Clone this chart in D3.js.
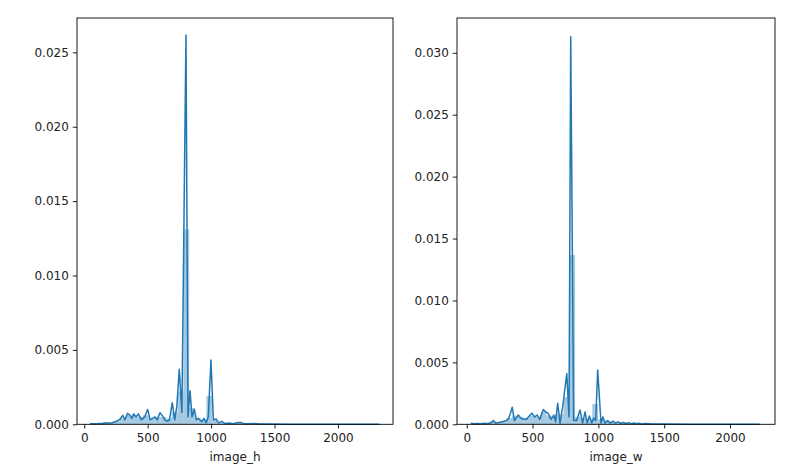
<!DOCTYPE html>
<html>
<head>
<meta charset="utf-8">
<script src="https://cdn.jsdelivr.net/npm/d3@7"></script>
<style>
  body { margin: 0; background: #fff; }
  svg text { font-family: "DejaVu Sans", sans-serif; font-size: 12px; fill: #222; }
</style>
</head>
<body>
<svg id="chart" width="795" height="474"></svg>
<script>
// image_h : kde curve (value, density)
var kdeH = [
  [45,0.00003],[70,0.00004],[95,0.00003],[120,0.00006],[145,0.00005],[170,0.0001],
  [195,0.00007],[220,0.0001],[255,0.0002],[282,0.00034],[303,0.0006],[321,0.0003],
  [342,0.00074],[361,0.0006],[375,0.0004],[390,0.0007],[408,0.0005],[427,0.0007],
  [451,0.0003],[477,0.0005],[500,0.001],[520,0.0003],[540,0.0004],[558,0.0005],
  [575,0.0003],[597,0.00078],[615,0.0006],[635,0.0003],[654,0.0002],[672,0.0003],
  [694,0.00145],[713,0.0003],[730,0.0012],[749,0.0037],[770,0.0008],[802,0.02616],
  [818,0.0005],[834,0.00226],[850,0.0005],[868,0.001],[884,0.0003],[900,0.0004],
  [926,0.00017],[944,0.0004],[962,0.0001],[978,0.0005],[999,0.00432],[1018,0.0003],
  [1040,0.00035],[1060,0.0001],[1085,0.0002],[1110,0.00005],[1140,0.00008],[1170,0.00003],
  [1200,0.0001],[1235,0.00012],[1260,0.00003],[1300,0.00004],[1340,0.00006],[1380,0.00002],
  [1450,0.00002],[1600,0.00001],[1800,0.00001],[2000,0.00001],[2200,0.00001],[2326,0.00001]
];
// image_h : histogram, 50 bins
var histStartH = 55, histWidthH = 45.4;
var histH = [
  0.00003,0.00004,0.00007,0.00008,0.0002,0.0004,0.0006,0.0006,0.0005,0.0006,
  0.0004,0.0005,0.0005,0.0004,0.0008,0.0022,0.0131,0.0011,0.0004,0.0003,
  0.0019,0.0003,0.00012,0.00007,0.00006,0.00008,0.00004,0.00004,0.00003,0.00002,
  0.00002,0.00001,0.00001,0.00001,0.00001,0.00001,0.00001,0,0.00001,0,
  0,0.00001,0,0,0,0.00001,0,0,0,0.00001
];

// image_w : kde curve
var kdeW = [
  [30,0.00008],[55,0.00005],[80,0.00007],[105,0.00005],[130,0.00008],[155,0.00007],
  [180,0.0001],[202,0.0003],[220,0.0001],[245,0.00015],[270,0.0002],[304,0.0003],
  [320,0.0005],[346,0.00137],[362,0.0003],[392,0.00075],[410,0.0005],[430,0.0004],
  [453,0.0004],[494,0.0009],[515,0.0006],[536,0.00075],[555,0.0004],[582,0.0012],
  [600,0.001],[617,0.0009],[640,0.0004],[663,0.0007],[675,0.0002],[691,0.0017],
  [709,0.0001],[730,0.0015],[760,0.0041],[777,0.0006],[790,0.0313],[812,0.0003],
  [835,0.0003],[861,0.00115],[880,0.0001],[899,0.001],[915,0.0001],[932,0.00067],
  [950,0.0001],[965,0.0005],[980,0.0003],[995,0.00438],[1020,0.0001],[1035,0.0006],
  [1050,0.0001],[1070,0.0003],[1090,0.0001],[1110,0.00025],[1130,0.0001],[1150,0.0002],
  [1170,0.00008],[1190,0.00015],[1210,0.00006],[1230,0.00012],[1250,0.00005],[1270,0.0001],
  [1290,0.00004],[1310,0.00008],[1330,0.00003],[1360,0.00006],[1400,0.00002],[1500,0.00002],
  [1700,0.00001],[1900,0.00001],[2100,0.00001],[2225,0.00001]
];
var histStartW = 40, histWidthW = 43.5;
var histW = [
  0.00006,0.00006,0.00008,0.0002,0.00013,0.0002,0.0005,0.0007,0.0006,0.0005,
  0.0007,0.0006,0.001,0.0007,0.0008,0.0008,0.0022,0.01367,0.0006,0.0005,
  0.0004,0.00164,0.0004,0.0003,0.0002,0.00015,0.0001,0.00008,0.00006,0.00005,
  0.00003,0.00002,0.00002,0.00001,0.00001,0.00001,0.00001,0,0.00001,0,
  0,0.00001,0,0,0.00001,0,0,0,0,0.00001
];

var xTicks = [0, 500, 1000, 1500, 2000];
var yTicksH = [0, 0.005, 0.010, 0.015, 0.020, 0.025];
var yTicksW = [0, 0.005, 0.010, 0.015, 0.020, 0.025, 0.030];

var blue = "#1f77b4";
var svg = d3.select("#chart");

function panel(opts) {
  var g = svg.append("g");
  var x = d3.scaleLinear().domain(opts.xDomain).range([opts.left, opts.right]);
  var y = d3.scaleLinear().domain(opts.yDomain).range([opts.bottom, opts.top]);

  // histogram bars
  g.selectAll("rect.bar").data(opts.hist).enter().append("rect")
    .attr("class", "bar")
    .attr("x", function(d, i) { return x(opts.histStart + i * opts.histWidth); })
    .attr("width", function(d, i) {
      return x(opts.histStart + (i + 1) * opts.histWidth) - x(opts.histStart + i * opts.histWidth);
    })
    .attr("y", function(d) { return y(d); })
    .attr("height", function(d) { return y(0) - y(d); })
    .attr("fill", blue)
    .attr("fill-opacity", 0.4);

  // kde line
  var line = d3.line().x(function(d) { return x(d[0]); }).y(function(d) { return y(d[1]); });
  g.append("path").datum(opts.kde)
    .attr("d", line)
    .attr("fill", "none")
    .attr("stroke", blue)
    .attr("stroke-width", 1.5)
    .attr("stroke-linejoin", "round");

  var xAxis = d3.axisBottom(x).tickValues(xTicks).tickSize(4.2).tickPadding(4.5)
    .tickFormat(d3.format("d"));
  var yAxis = d3.axisLeft(y).tickValues(opts.yTicks).tickSize(4.2).tickPadding(4)
    .tickFormat(d3.format(".3f"));

  var ga = g.append("g").attr("transform", "translate(0," + opts.bottom + ")").call(xAxis);
  var gy = g.append("g").attr("transform", "translate(" + opts.left + ",0)").call(yAxis);
  [ga, gy].forEach(function(a) {
    a.select(".domain").remove();
    a.selectAll(".tick line").attr("stroke", "#000").attr("stroke-width", 0.9);
    a.selectAll(".tick text").attr("font-size", null).attr("font-family", null).attr("fill", "#222");
  });

  // frame
  g.append("rect")
    .attr("x", opts.left).attr("y", opts.top)
    .attr("width", opts.right - opts.left).attr("height", opts.bottom - opts.top)
    .attr("fill", "none").attr("stroke", "#000").attr("stroke-width", 0.9);

  g.append("text")
    .attr("x", (opts.left + opts.right) / 2)
    .attr("y", opts.bottom + 37)
    .attr("text-anchor", "middle")
    .text(opts.label);
}

panel({
  left: 77, right: 393, top: 18, bottom: 424.3,
  xDomain: [-57, 2434], yDomain: [0, 0.02731],
  kde: kdeH, hist: histH, histStart: histStartH, histWidth: histWidthH,
  yTicks: yTicksH, label: "image_h"
});

panel({
  left: 457, right: 775, top: 18, bottom: 424.3,
  xDomain: [-74, 2342], yDomain: [0, 0.03281],
  kde: kdeW, hist: histW, histStart: histStartW, histWidth: histWidthW,
  yTicks: yTicksW, label: "image_w"
});
</script>
</body>
</html>
